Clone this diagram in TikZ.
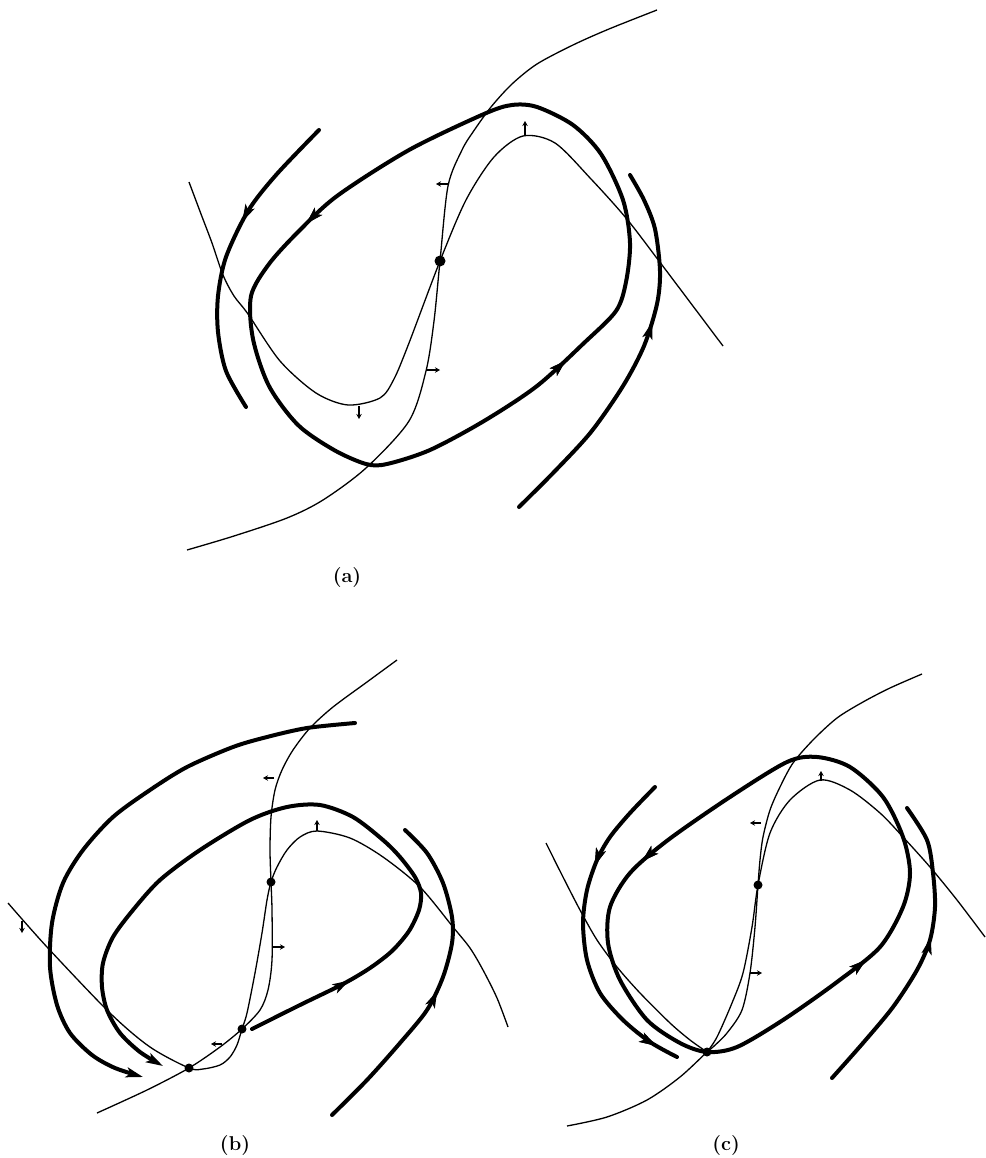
\documentclass[tikz,border=0pt]{standalone}
\usepackage{fontspec}
\usetikzlibrary{arrows.meta,decorations.markings}

\begin{document}
\begin{tikzpicture}[x=1pt,y=-1pt,
  heavy/.style={line width=4pt,line cap=round},
  nullcline/.style={line width=1.3pt},
  flowat/.style={postaction={decorate},decoration={markings,
    mark=at position #1 with {\arrow{Stealth[length=17pt,width=10pt,inset=4pt]}}}},
  flowend/.style={-{Stealth[length=17pt,width=10pt,inset=4pt]}},
  dirarrow/.style={line width=1.2pt,-{Stealth[length=5pt,width=5.5pt]}},
  panel/.style={font=\bfseries\fontsize{20}{24}\selectfont}]
\useasboundingbox (0,0) rectangle (985,1158);

\coordinate (pa) at (440,261);
\draw[nullcline] plot[smooth] coordinates {(657,10) (609,29) (573,45) (537,64) (512,84) (491,107)
  (473,132) (462,150) (448,186) (pa) (434,321) (426,371) (409,421) (366,468) (323,500) (287,518)
  (234,536) (187,550)};
\draw[nullcline] plot[smooth] coordinates {(189,182) (201,214) (212,243) (223,275) (234,296) (248,314)
  (280,361) (316,393) (348,405) (380,398) (394,379) (409,343) (pa) (466,200) (494,157) (523,136)
  (555,143) (591,179) (626,218) (659,261) (723,346)};
\draw[heavy,flowat=0.187,flowat=0.67] plot[smooth cycle] coordinates {(512,105) (484,114) (409,150)
  (337,196) (298,232) (269,264) (251,296) (253,339) (269,386) (298,425) (334,450) (366,464) (387,464)
  (430,450) (484,421) (537,386) (584,343) (616,311) (626,282) (630,243) (623,200) (601,154) (573,125)
  (537,107)};
\draw[heavy,flowat=0.38] plot[smooth] coordinates {(319,130) (276,175) (248,211) (226,257) (218,296)
  (218,332) (226,371) (246,407)};
\draw[heavy,flowat=0.60] plot[smooth] coordinates {(519,507) (555,471) (591,432) (623,386) (644,346)
  (657,304) (660,271) (655,229) (644,200) (630,175)};
\fill (pa) circle (5.5);
\draw[dirarrow] (448,184) -- (436,184);
\draw[dirarrow] (426,370) -- (440,370);
\draw[dirarrow] (359,406) -- (359,419);
\draw[dirarrow] (525,135) -- (525,121);
\node[panel] (laba) at (347,578) {(a)};

\coordinate (pb1) at (271,882);
\coordinate (pb2) at (242,1029);
\coordinate (pb3) at (189,1068);
\draw[nullcline] plot[smooth] coordinates {(397,660) (367,682) (333,707) (310,728) (293,750) (282,770)
  (275,790) (271,817) (270,850) (pb1) (272,910) (272,960) (268,990) (260,1010) (pb2) (220,1047)
  (pb3) (147,1090) (97,1113)};
\draw[nullcline] plot[smooth] coordinates {(8,903) (47,947) (110,1013) (150,1047) (pb3) (203,1069)
  (220,1065) (230,1057) (237,1045) (pb2) (247,1013) (255,973) (262,933) (267,900) (pb1) (277,867)
  (287,850) (300,837) (317,831) (350,838) (383,857) (420,887) (453,927) (470,948) (483,970)
  (497,998) (508,1027)};
\draw[heavy,flowend] plot[smooth] coordinates {(355,723) (307,728) (267,737) (233,747) (187,767)
  (150,790) (113,817) (83,850) (63,883) (52,923) (50,967) (57,1005) (70,1033) (92,1055) (115,1068)
  (143,1077)};
\draw[heavy,flowend,flowat=0.14] plot[smooth] coordinates {(252,1029) (300,1005) (343,984) (370,968)
  (392,951) (409,931) (419,910) (421,893) (415,877) (400,857) (383,840) (353,817) (320,805) (287,807)
  (250,820) (200,850) (160,880) (133,910) (113,937) (103,963) (102,987) (107,1010) (120,1033)
  (140,1052) (163,1066)};
\draw[heavy,flowat=0.48] plot[smooth] coordinates {(332,1115) (367,1080) (400,1043) (427,1010)
  (443,977) (452,943) (452,917) (443,883) (427,853) (405,830)};
\foreach \p in {pb1,pb2,pb3}
  \fill (\p) circle (4.5);
\draw[dirarrow] (274,778) -- (263,778);
\draw[dirarrow] (273,947) -- (285,947);
\draw[dirarrow] (317,831) -- (317,820);
\draw[dirarrow] (22,921) -- (22,933);
\draw[dirarrow] (222,1044) -- (211,1044);
\node[panel] (labb) at (235,1145) {(b)};

\coordinate (pc1) at (758,885);
\coordinate (pc2) at (707,1052);
\draw[nullcline] plot[smooth] coordinates {(922,674) (890,688) (863,702) (837,718) (813,740) (793,763)
  (780,787) (770,810) (763,837) (760,860) (pc1) (755,927) (750,973) (742,1010) (727,1033) (713,1047)
  (pc2) (680,1077) (647,1100) (607,1117) (567,1126)};
\draw[nullcline] plot[smooth] coordinates {(546,843) (563,877) (580,910) (597,940) (617,967) (640,993)
  (670,1023) (690,1040) (pc2)};
\draw[nullcline] plot[smooth] coordinates {(pc2) (717,1037) (732,1003) (743,973) (752,927) (pc1)
  (770,833) (790,800) (820,780) (850,790) (880,813) (903,837) (930,867) (957,900) (985,937)};
\draw[heavy,flowat=0.195,flowat=0.677] plot[smooth cycle] coordinates {(817,757) (787,762) (730,797)
  (668,840) (630,873) (610,907) (608,943) (620,980) (647,1020) (680,1043) (pc2) (737,1047) (783,1020)
  (837,982) (880,947) (903,907) (910,873) (903,837) (883,797) (850,767)};
\draw[heavy,flowat=0.30,flowat=0.93] plot[smooth] coordinates {(655,787) (630,813) (610,837) (597,860)
  (587,890) (583,923) (587,960) (600,993) (623,1020) (650,1042) (677,1057)};
\draw[heavy,flowat=0.56] plot[smooth] coordinates {(832,1078) (863,1043) (893,1007) (917,970) (930,940)
  (935,907) (933,873) (927,840) (907,808)};
\foreach \p in {pc1,pc2}
  \fill (\p) circle (4.5);
\draw[dirarrow] (761,823) -- (750,823);
\draw[dirarrow] (750,973) -- (762,973);
\draw[dirarrow] (821,781) -- (821,771);
\node[panel] (labc) at (726,1145) {(c)};
\end{tikzpicture}
\end{document}
